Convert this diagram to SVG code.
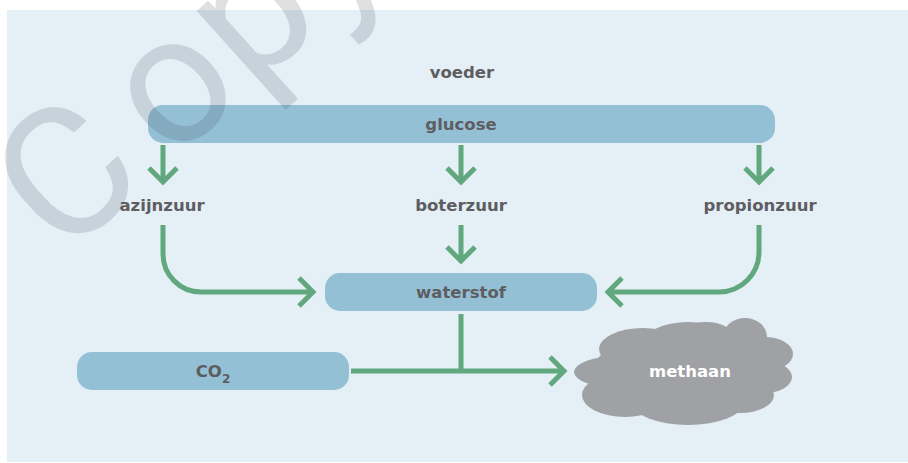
<svg xmlns="http://www.w3.org/2000/svg" width="908" height="463" viewBox="0 0 908 463">
  <style>
    .box { fill: #94c0d6; }
    .lbl { font-family: "DejaVu Sans", "Liberation Sans", sans-serif; font-weight: bold; font-size: 16.5px; fill: #5e5d61; text-anchor: middle; }
    .wlbl { fill: #ffffff; }
    .con { fill: none; stroke: #62a87e; stroke-width: 5; stroke-linejoin: miter; stroke-linecap: butt; }
    .cloud { fill: #a0a1a5; }
    .wm { font-family: "Roboto", "DejaVu Sans", sans-serif; font-weight: normal; font-size: 182px; fill: #1a2630; fill-opacity: 0.14; }
  </style>
  <rect x="7" y="10" width="901" height="452" fill="#e4eff6"/>

  <g id="voeder">
    <text class="lbl" x="462" y="78">voeder</text>
  </g>
  <g id="glucose">
    <rect class="box" x="148" y="105" width="627" height="38" rx="15"/>
    <text class="lbl" x="461" y="130">glucose</text>
  </g>
  <g id="azijnzuur">
    <text class="lbl" x="162" y="211">azijnzuur</text>
  </g>
  <g id="boterzuur">
    <text class="lbl" x="461" y="211">boterzuur</text>
  </g>
  <g id="propionzuur">
    <text class="lbl" x="760" y="211">propionzuur</text>
  </g>
  <g id="waterstof">
    <rect class="box" x="325" y="273" width="272" height="38" rx="15"/>
    <text class="lbl" x="461" y="298">waterstof</text>
  </g>
  <g id="co2">
    <rect class="box" x="77" y="352" width="272" height="38" rx="15"/>
    <text class="lbl" x="213" y="377">CO<tspan font-size="12" dy="6">2</tspan></text>
  </g>
  <g id="methaan">
    <g class="cloud">
      <ellipse cx="685" cy="371" rx="92" ry="40"/>
      <ellipse cx="618" cy="372" rx="44" ry="16"/>
      <ellipse cx="643" cy="349" rx="44" ry="21"/>
      <ellipse cx="688" cy="344" rx="45" ry="22"/>
      <ellipse cx="706" cy="340" rx="30" ry="18"/>
      <ellipse cx="745" cy="337" rx="22" ry="19"/>
      <ellipse cx="765" cy="354" rx="28" ry="17"/>
      <ellipse cx="765" cy="377" rx="27" ry="16"/>
      <ellipse cx="740" cy="395" rx="34" ry="18"/>
      <ellipse cx="688" cy="402" rx="56" ry="23"/>
      <ellipse cx="625" cy="395" rx="43" ry="22"/>
    </g>
    <text class="lbl wlbl" x="690" y="377">methaan</text>
  </g>

  <g id="connectors" class="con">
    <path d="M163,145 V181 M149,168 L163,182 L177,168"/>
    <path d="M461,145 V181 M447,168 L461,182 L475,168"/>
    <path d="M759,145 V181 M745,168 L759,182 L773,168"/>
    <path d="M461,225 V260 M447,247 L461,261 L475,247"/>
    <path d="M163,225 V254 A38,38 0 0 0 201,292 H313 M299,278 L313,292 L299,306"/>
    <path d="M759,225 V252 A40,40 0 0 1 719,292 H608 M622,278 L608,292 L622,306"/>
    <path d="M461,314 V371"/>
    <path d="M351,371 H564 M550,357 L564,371 L550,385"/>
  </g>

  <text class="wm" transform="translate(158,175) rotate(-42)" x="-127 18 126 229" y="0">Copy</text>
</svg>
